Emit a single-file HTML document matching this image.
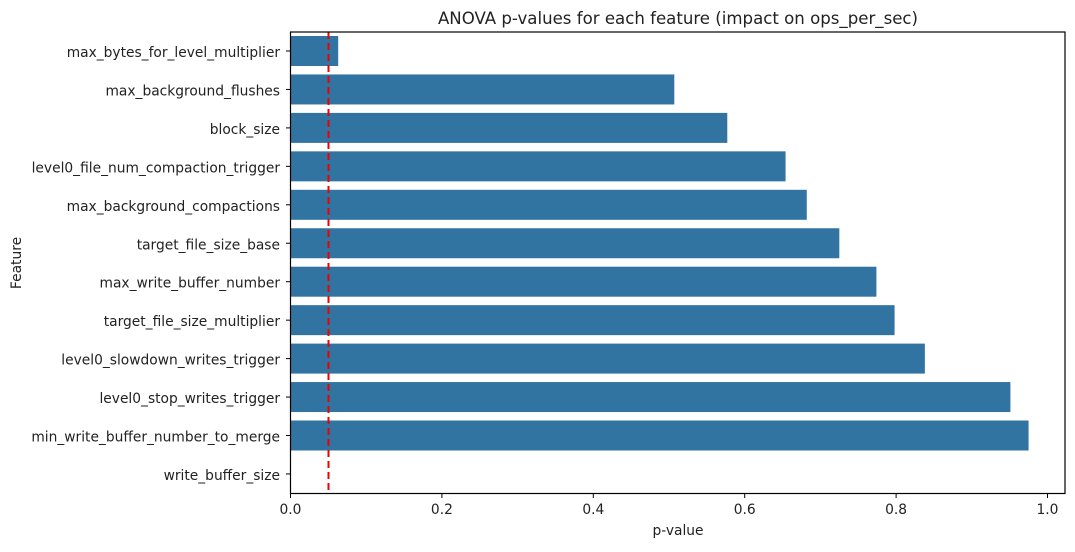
<!DOCTYPE html>
<html><head><meta charset="utf-8"><style>
body{margin:0;background:#fff;font-family:"Liberation Sans","DejaVu Sans",sans-serif;}
svg text{font-family:"DejaVu Sans","Liberation Sans",sans-serif;font-size:13.8px;fill:#222;}
</style></head><body>
<svg id="chart" width="1075" height="547">
<text id="title" x="678" y="24" text-anchor="middle" style="font-size:16.6px">ANOVA p-values for each feature (impact on ops_per_sec)</text>
<text x="678" y="535" text-anchor="middle">p-value</text>
<text x="21" y="263" text-anchor="middle" transform="rotate(-90 21 263)">Feature</text>
<g id="bars"></g>
<g id="ticks"></g>
<line x1="328.5" x2="328.5" y1="32" y2="493" stroke="#e00" stroke-width="2" stroke-dasharray="7,4"/>
<rect x="290.5" y="32" width="774.5" height="461.5" fill="none" stroke="#000" stroke-width="1.2"/>
</svg>
<script>
const categories=["max_bytes_for_level_multiplier","max_background_flushes","block_size","level0_file_num_compaction_trigger","max_background_compactions","target_file_size_base","max_write_buffer_number","target_file_size_multiplier","level0_slowdown_writes_trigger","level0_stop_writes_trigger","min_write_buffer_number_to_merge","write_buffer_size"];
const pvalues=[0.063,0.507,0.577,0.654,0.682,0.725,0.774,0.798,0.838,0.951,0.975,0];
const xTicks=[0,0.2,0.4,0.6,0.8,1.0];
const xTickLabels=["0.0","0.2","0.4","0.6","0.8","1.0"];
const NS="http://www.w3.org/2000/svg";
const x=v=>290.5+v*757;
const yc=i=>51+i*38.45;
const bars=document.getElementById('bars'),ticks=document.getElementById('ticks');
function mk(t,a,p){const e=document.createElementNS(NS,t);for(const k in a)e.setAttribute(k,a[k]);p.appendChild(e);return e;}
categories.forEach((c,i)=>{
 const r=mk('rect',{x:x(0),y:yc(i)-15,width:Math.max(0,x(pvalues[i])-x(0)),height:30,fill:'#3274a1'},bars);
 
 
 const l=mk('line',{x1:286,x2:290.5,y1:yc(i),y2:yc(i),stroke:'#000'},ticks);
 
 
 const t=mk('text',{x:280,y:yc(i)+6,'text-anchor':'end'},ticks);t.textContent=c;
 
 
});
xTicks.forEach((v,i)=>{
 const l=mk('line',{x1:x(v),x2:x(v),y1:493,y2:498,stroke:'#000'},ticks);
 
 
 const t=mk('text',{x:x(v),y:514,'text-anchor':'middle'},ticks);t.textContent=xTickLabels[i];
 
 
});
</script>
</body></html>
